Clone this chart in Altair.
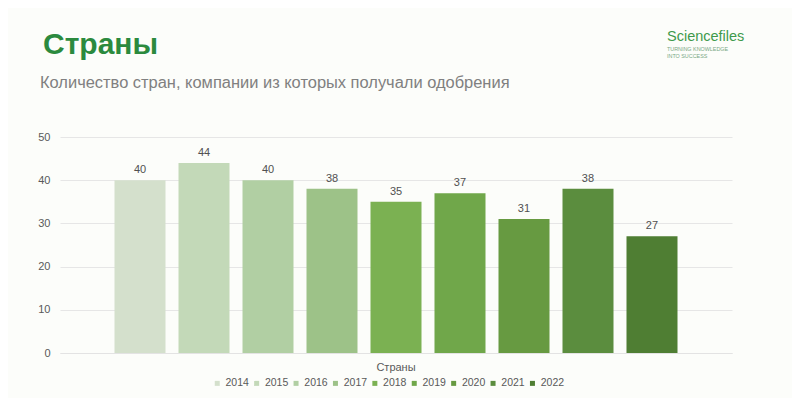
import altair as alt
import pandas as pd

years = ["2014", "2015", "2016", "2017", "2018", "2019", "2020", "2021", "2022"]
values = [40, 44, 40, 38, 35, 37, 31, 38, 27]
colors = ["#d4e0cc", "#c3d9b8", "#b1cfa3", "#9dc288", "#7bb152",
          "#70a74a", "#679a41", "#5b8d3e", "#4f7e33"]
category = "Страны"
title_text = "Страны"
subtitle_text = "Количество стран, компании из которых получали одобрения"
logo_name = "Sciencefiles"
logo_tag1 = "TURNING KNOWLEDGE"
logo_tag2 = "INTO SUCCESS"

df = pd.DataFrame({"cat": [category] * len(years), "year": years, "value": values})

FONT = "Liberation Sans"

x_enc = alt.X("cat:N", title=None,
              scale=alt.Scale(paddingInner=0, paddingOuter=0.0968),
              axis=alt.Axis(labelAngle=0, ticks=False, domain=True, domainColor="#e3e3e3",
                            labelColor="#595959", labelFontSize=11, labelFont=FONT,
                            labelPadding=8))
xo_enc = alt.XOffset("year:N", sort=years,
                     scale=alt.Scale(paddingInner=0.203, paddingOuter=0))
y_enc = alt.Y("value:Q", title=None,
              scale=alt.Scale(domain=[0, 50]),
              axis=alt.Axis(values=[0, 10, 20, 30, 40, 50], domain=False, ticks=False,
                            gridColor="#e6e6e6", labelColor="#595959", labelFontSize=11,
                            labelFont=FONT, labelPadding=10))

base = alt.Chart(df)

bars = base.mark_bar().encode(
    x=x_enc, xOffset=xo_enc, y=y_enc,
    color=alt.Color("year:N", sort=years,
                    scale=alt.Scale(domain=years, range=colors),
                    legend=alt.Legend(title=None, orient="none", legendX=152, legendY=241,
                                      direction="horizontal", columns=9,
                                      symbolType="square", symbolSize=25,
                                      symbolStrokeWidth=0,
                                      labelFontSize=10.5, labelFont=FONT, labelColor="#595959",
                                      labelOffset=3, columnPadding=2.4)),
)

labels = base.mark_text(baseline="bottom", dy=-5, fontSize=11, font=FONT, color="#505050").encode(
    x=x_enc, xOffset=xo_enc, y=y_enc, text="value:Q"
)

def txt(s, x, y, size, color, weight="normal", align="left"):
    return alt.Chart(pd.DataFrame({"t": [s]})).mark_text(
        align=align, baseline="alphabetic", fontSize=size, font=FONT,
        fontWeight=weight, color=color
    ).encode(text="t:N", x=alt.value(x), y=alt.value(y))

title = txt(title_text, -17, -83, 30, "#2b8a3e", "bold")
subtitle = txt(subtitle_text, -20, -49, 16.45, "#808080")
logo1 = txt(logo_name, 607, -96, 14.5, "#3f9a4c")
logo2 = txt(logo_tag1, 607, -86, 5.4, "#7aa884")
logo3 = txt(logo_tag2, 607, -79, 5.4, "#7aa884")

chart = alt.layer(bars, labels, title, subtitle, logo1, logo2, logo3).properties(
    width=672, height=216,
    autosize=alt.AutoSizeParams(type="none"),
    padding={"left": 52, "top": 129, "right": 60, "bottom": 45},
    background="#fcfdfa",
).configure_view(stroke=None)

chart.save("out.html", embed_options={"renderer": "svg", "actions": False})
